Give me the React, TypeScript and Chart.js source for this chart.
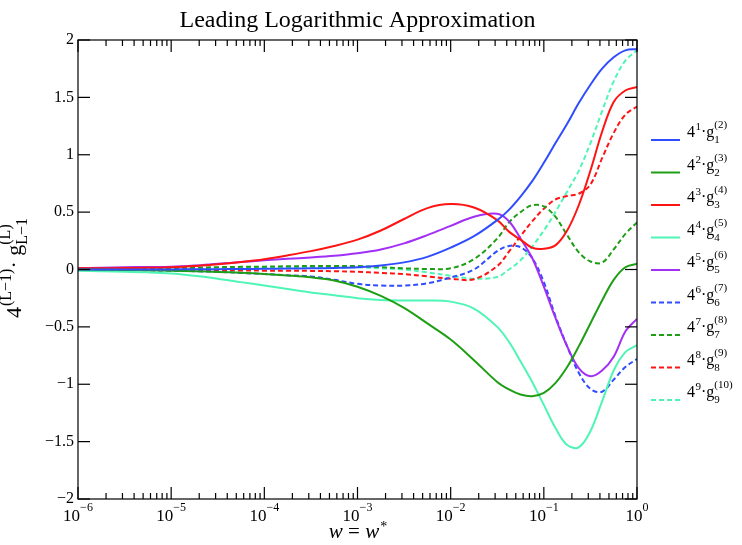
import { useEffect, useRef } from 'react';
import { Chart, registerables } from 'chart.js';

Chart.register(...registerables);

// w = w* sample points (log spaced: quarter decades, then eighth decades)
const wValues = [
  1e-6, 1.78e-6, 3.16e-6, 5.62e-6, 1e-5, 1.78e-5, 3.16e-5, 5.62e-5, 1e-4, 1.78e-4,
  3.16e-4, 5.62e-4, 1e-3, 1.78e-3, 3.16e-3, 5.62e-3, 1e-2, 1.78e-2, 3.16e-2, 4.22e-2,
  5.62e-2, 7.5e-2, 0.1, 0.133, 0.178, 0.237, 0.316, 0.422, 0.562, 0.75, 1,
];

const g1 = [0.0, 0.0, 0.0, 0.0, 0.001, 0.002, 0.003, 0.004, 0.006, 0.008, 0.01, 0.014, 0.02, 0.035, 0.062, 0.11, 0.19, 0.29, 0.43, 0.52, 0.635, 0.77, 0.93, 1.1, 1.27, 1.45, 1.61, 1.75, 1.85, 1.91, 1.92];
const g2 = [0.0, -0.002, -0.004, -0.007, -0.01, -0.015, -0.021, -0.029, -0.039, -0.052, -0.068, -0.095, -0.15, -0.23, -0.335, -0.47, -0.61, -0.79, -0.98, -1.045, -1.09, -1.105, -1.075, -0.99, -0.85, -0.67, -0.47, -0.27, -0.09, 0.02, 0.05];
const g3 = [0.01, 0.011, 0.012, 0.015, 0.02, 0.03, 0.045, 0.065, 0.09, 0.123, 0.16, 0.205, 0.26, 0.34, 0.44, 0.535, 0.57, 0.54, 0.43, 0.33, 0.26, 0.19, 0.18, 0.21, 0.34, 0.56, 0.86, 1.2, 1.46, 1.56, 1.59];
const g4 = [-0.01, -0.015, -0.02, -0.025, -0.035, -0.055, -0.08, -0.11, -0.14, -0.17, -0.2, -0.225, -0.25, -0.265, -0.27, -0.27, -0.28, -0.34, -0.5, -0.63, -0.8, -0.98, -1.18, -1.38, -1.53, -1.55, -1.41, -1.15, -0.88, -0.72, -0.66];
const g5 = [0.01, 0.015, 0.02, 0.022, 0.025, 0.035, 0.05, 0.065, 0.08, 0.093, 0.105, 0.12, 0.142, 0.175, 0.228, 0.3, 0.38, 0.46, 0.485, 0.42, 0.27, 0.1, -0.15, -0.42, -0.67, -0.86, -0.93, -0.88, -0.76, -0.54, -0.43];
const g6 = [0.0, 0.0, -0.005, -0.007, -0.01, -0.015, -0.02, -0.03, -0.04, -0.05, -0.06, -0.09, -0.125, -0.14, -0.14, -0.12, -0.07, 0.0, 0.16, 0.205, 0.195, 0.1, -0.11, -0.405, -0.67, -0.9, -1.04, -1.065, -0.96, -0.85, -0.78];
const g7 = [0.0, 0.003, 0.005, 0.008, 0.01, 0.015, 0.02, 0.023, 0.025, 0.028, 0.03, 0.03, 0.03, 0.02, 0.01, 0.005, 0.01, 0.09, 0.27, 0.41, 0.5, 0.56, 0.55, 0.46, 0.3, 0.15, 0.07, 0.06, 0.175, 0.31, 0.41];
const g8 = [0.01, 0.005, 0.0, 0.0, 0.0, -0.003, -0.005, -0.008, -0.01, -0.01, -0.012, -0.015, -0.02, -0.03, -0.04, -0.06, -0.08, -0.085, 0.03, 0.155, 0.29, 0.42, 0.53, 0.61, 0.64, 0.66, 0.74, 0.97, 1.19, 1.35, 1.42];
const g9 = [0.0, 0.005, 0.01, 0.01, 0.01, 0.012, 0.015, 0.018, 0.02, 0.02, 0.02, 0.02, 0.02, 0.01, 0.0, -0.025, -0.055, -0.08, -0.065, 0.0, 0.08, 0.2, 0.34, 0.5, 0.68, 0.86, 1.1, 1.38, 1.64, 1.82, 1.91];

const seriesValues = [g1, g2, g3, g4, g5, g6, g7, g8, g9];
const seriesColors = ['#2f4dff', '#1e9e14', '#ff1414', '#4ff5b5', '#a12ff5', '#2f4dff', '#1e9e14', '#ff1414', '#4ff5b5'];
const seriesDashed = [false, false, false, false, false, true, true, true, true];

// legend label pieces: 4^{pow} . g_{sub}^{(sup)}
const legendPow = ['1', '2', '3', '4', '5', '6', '7', '8', '9'];
const legendSub = ['1', '2', '3', '4', '5', '6', '7', '8', '9'];
const legendSup = ['(2)', '(3)', '(4)', '(5)', '(6)', '(7)', '(8)', '(9)', '(10)'];

const xTickExps = [-6, -5, -4, -3, -2, -1, 0];
const yTickValues = [-2, -1.5, -1, -0.5, 0, 0.5, 1, 1.5, 2];

const titleText = 'Leading Logarithmic Approximation';
const SERIF = '"Liberation Serif", "DejaVu Serif", serif';

const fmt = (v: number) => (v < 0 ? '\u2212' + Math.abs(v) : String(v));

const decorPlugin = {
  id: 'decor',
  afterDraw(chart: any) {
    const { ctx, chartArea: a, scales } = chart;
    const xs = scales.x;
    const ys = scales.y;
    ctx.save();
    ctx.strokeStyle = '#000';
    ctx.fillStyle = '#000';
    ctx.lineWidth = 1.2;

    const seg = (x1: number, y1: number, x2: number, y2: number) => {
      ctx.beginPath();
      ctx.moveTo(x1, y1);
      ctx.lineTo(x2, y2);
      ctx.stroke();
    };

    // frame
    ctx.strokeRect(a.left, a.top, a.right - a.left, a.bottom - a.top);

    // x ticks, major + minor, bottom and top
    xTickExps.forEach((e) => {
      const base = Math.pow(10, e);
      for (let m = 1; m <= 9; m++) {
        const v = base * m;
        if (v > 1.0000001) break;
        const px = xs.getPixelForValue(v);
        const len = m === 1 ? 12 : 6;
        seg(px, a.bottom, px, a.bottom - len);
        seg(px, a.top, px, a.top + len);
      }
    });

    // y ticks, left and right
    yTickValues.forEach((v) => {
      const py = ys.getPixelForValue(v);
      seg(a.left, py, a.left + 12, py);
      seg(a.right, py, a.right - 12, py);
    });

    // x tick labels 10^e
    ctx.textBaseline = 'alphabetic';
    ctx.textAlign = 'left';
    xTickExps.forEach((e) => {
      const px = xs.getPixelForValue(Math.pow(10, e));
      const expText = e < 0 ? '\u2212' + Math.abs(e) : String(e);
      ctx.font = `17px ${SERIF}`;
      const baseW = ctx.measureText('10').width;
      ctx.font = `12px ${SERIF}`;
      const expW = ctx.measureText(expText).width;
      const x0 = px - (baseW + expW) / 2;
      ctx.font = `17px ${SERIF}`;
      ctx.fillText('10', x0, a.bottom + 22);
      ctx.font = `12px ${SERIF}`;
      ctx.fillText(expText, x0 + baseW, a.bottom + 12);
    });

    // title
    ctx.textAlign = 'center';
    ctx.font = `24px ${SERIF}`;
    ctx.fillText(titleText, (a.left + a.right) / 2, 27);

    // x axis title: w = w*
    {
      const cx = (a.left + a.right) / 2;
      const by = 538;
      ctx.textAlign = 'left';
      ctx.font = `italic 21px ${SERIF}`;
      const wW = ctx.measureText('w').width;
      ctx.font = `21px ${SERIF}`;
      const eqW = ctx.measureText(' = ').width;
      ctx.font = `14px ${SERIF}`;
      const stW = ctx.measureText('*').width;
      let x = cx - (wW * 2 + eqW + stW) / 2;
      ctx.font = `italic 21px ${SERIF}`;
      ctx.fillText('w', x, by);
      x += wW;
      ctx.font = `21px ${SERIF}`;
      ctx.fillText(' = ', x, by);
      x += eqW;
      ctx.font = `italic 21px ${SERIF}`;
      ctx.fillText('w', x, by);
      x += wW;
      ctx.font = `14px ${SERIF}`;
      ctx.fillText('*', x + 1, by - 7);
    }

    // y axis title: 4^{(L-1)} . g_{L-1}^{(L)} rotated
    {
      ctx.save();
      ctx.translate(21, 318);
      ctx.rotate(-Math.PI / 2);
      ctx.textAlign = 'left';
      const big = `22px ${SERIF}`;
      const small = `16px ${SERIF}`;
      let x = 0;
      ctx.font = big;
      ctx.fillText('4', x, 0);
      x += ctx.measureText('4').width + 1;
      ctx.font = small;
      ctx.fillText('(L\u22121)', x, -10);
      x += ctx.measureText('(L\u22121)').width;
      ctx.font = big;
      ctx.fillText('\u00b7 ', x, 0);
      x += ctx.measureText('\u00b7 ').width;
      ctx.fillText('g', x, 0);
      x += ctx.measureText('g').width;
      ctx.font = small;
      ctx.fillText('(L)', x, -11);
      ctx.fillText('L\u22121', x, 6);
      ctx.restore();
    }

    // legend
    seriesValues.forEach((_, i) => {
      const ly = 140 + i * 32.5;
      ctx.save();
      ctx.strokeStyle = seriesColors[i];
      ctx.lineWidth = 2;
      ctx.setLineDash(seriesDashed[i] ? [5, 3] : []);
      seg(651, ly, 680, ly);
      ctx.restore();
      ctx.textAlign = 'left';
      let x = 687;
      const by = ly - 3;
      ctx.font = `16px ${SERIF}`;
      ctx.fillText('4', x, by);
      x += ctx.measureText('4').width;
      ctx.font = `11px ${SERIF}`;
      ctx.fillText(legendPow[i], x + 0.5, by - 7);
      x += ctx.measureText(legendPow[i]).width + 0.5;
      ctx.font = `16px ${SERIF}`;
      ctx.fillText('\u00b7', x, by);
      x += ctx.measureText('\u00b7').width;
      ctx.fillText('g', x, by);
      x += ctx.measureText('g').width;
      ctx.font = `11px ${SERIF}`;
      ctx.fillText(legendSup[i], x, by - 9);
      ctx.fillText(legendSub[i], x, by + 6);
    });

    ctx.restore();
  },
};

export default function App() {
  const canvasRef = useRef<HTMLCanvasElement>(null);
  const chartRef = useRef<Chart | null>(null);

  useEffect(() => {
    if (!canvasRef.current) return;
    if (chartRef.current) chartRef.current.destroy();

    const datasets = seriesValues.map((vals, i) => ({
      label: `g${i + 1}`,
      data: vals.map((y, k) => ({ x: wValues[k], y })),
      borderColor: seriesColors[i],
      backgroundColor: seriesColors[i],
      borderWidth: 2,
      borderDash: seriesDashed[i] ? [5, 3] : [],
      pointRadius: 0,
      tension: 0.35,
      fill: false,
    }));

    chartRef.current = new Chart(canvasRef.current, {
      type: 'line',
      data: { datasets },
      options: {
        animation: false,
        responsive: false,
        devicePixelRatio: 1,
        layout: { padding: { left: 0, right: 105, top: 40, bottom: 0 } },
        plugins: {
          legend: { display: false },
          tooltip: { enabled: false },
        },
        scales: {
          x: {
            type: 'logarithmic',
            min: 1e-6,
            max: 1,
            ticks: { display: false },
            grid: { display: false, drawTicks: false },
            border: { display: false },
            afterFit: (s: any) => { s.height = 46; },
          },
          y: {
            min: -2,
            max: 2,
            ticks: {
              stepSize: 0.5,
              color: '#000',
              padding: 4,
              font: { family: SERIF, size: 16 },
              callback: (v: any) => fmt(Number(v)),
            },
            grid: { display: false, drawTicks: false },
            border: { display: false },
            afterFit: (s: any) => { s.width = 78; },
          },
        },
      },
      plugins: [decorPlugin],
    } as any);

    return () => {
      if (chartRef.current) {
        chartRef.current.destroy();
        chartRef.current = null;
      }
    };
  }, []);

  return (
    <div style={{ position: 'fixed', left: 0, top: 0, width: 742, height: 545, background: '#fff' }}>
      <canvas ref={canvasRef} width={742} height={545} style={{ width: 742, height: 545 }} />
    </div>
  );
}
